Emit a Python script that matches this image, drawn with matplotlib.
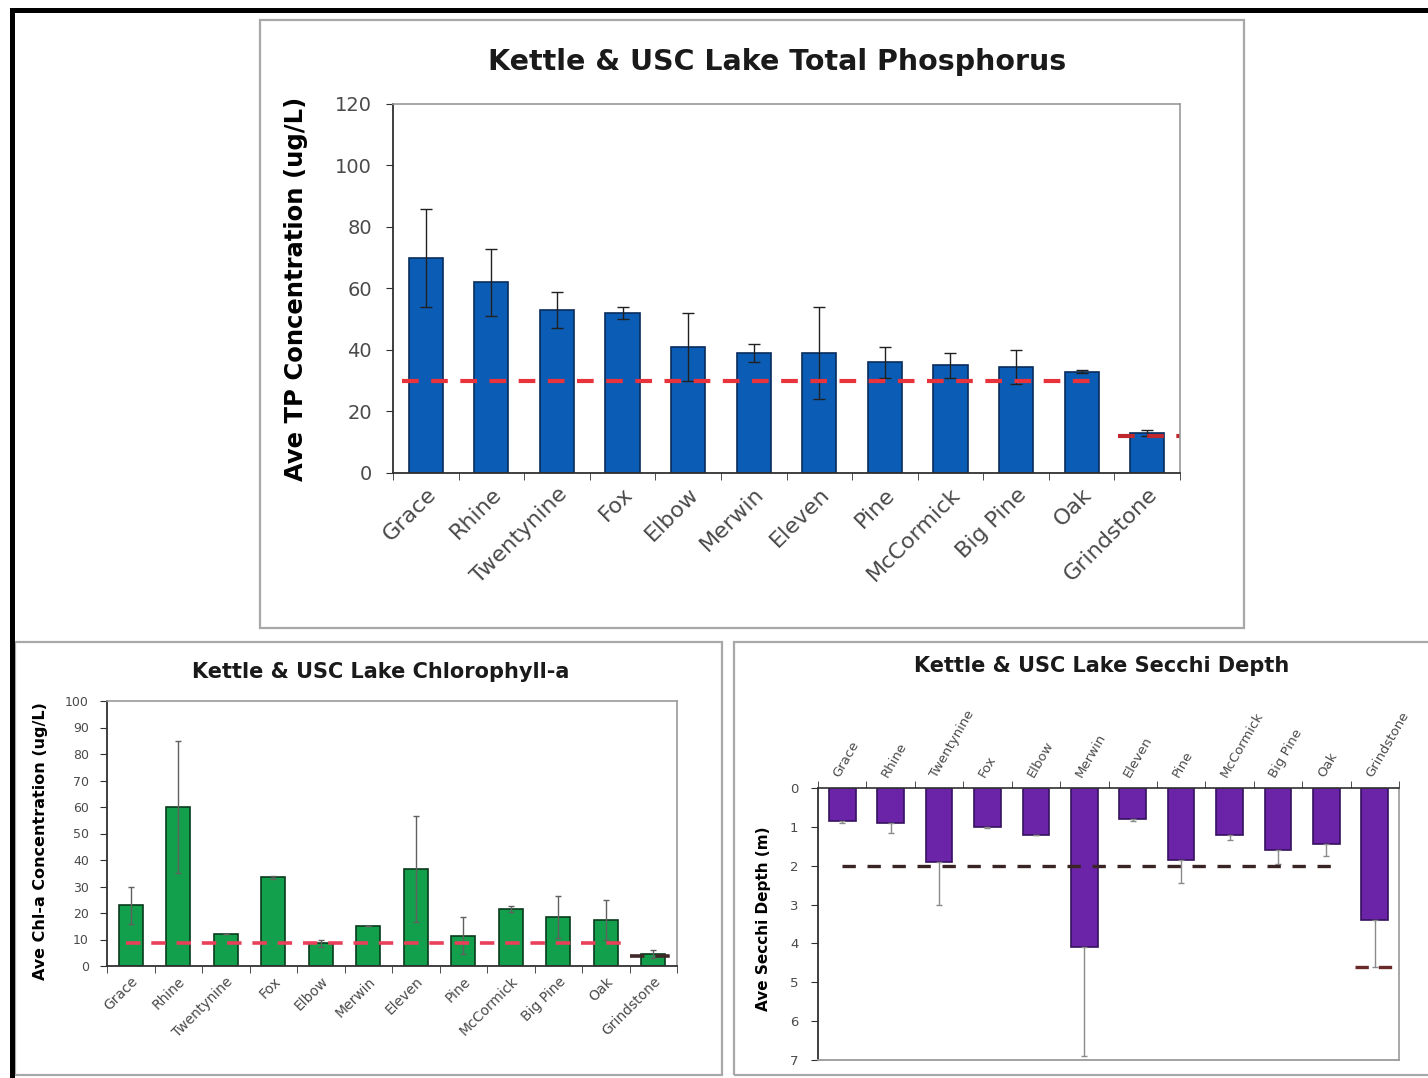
import matplotlib
matplotlib.use("Agg")
import matplotlib.pyplot as plt
import numpy as np
from matplotlib.patches import Rectangle
from matplotlib.lines import Line2D

W, H = 1428, 1078

lakes = ["Grace", "Rhine", "Twentynine", "Fox", "Elbow", "Merwin", "Eleven",
         "Pine", "McCormick", "Big Pine", "Oak", "Grindstone"]

tp_mean = [70, 62, 53, 52, 41, 39, 39, 36, 35, 34.5, 33, 13]
tp_err = [16, 11, 6, 2, 11, 3, 15, 5, 4, 5.5, 0.5, 1]
tp_ref = 30
tp_ref_grindstone = 12

chl_mean = [23, 60, 12, 33.5, 8.5, 15, 36.5, 11.5, 21.5, 18.5, 17.5, 4.5]
chl_err = [7, 25, 0, 0.5, 1.5, 0, 20, 7, 1, 8, 7.5, 1.5]
chl_ref = 8.6
chl_ref_grindstone = 3.6

secchi_mean = [0.85, 0.9, 1.9, 1.0, 1.2, 4.1, 0.8, 1.85, 1.2, 1.6, 1.45, 3.4]
secchi_err = [0.05, 0.25, 1.1, 0.02, 0.02, 2.8, 0.05, 0.6, 0.15, 0.35, 0.3, 1.2]
secchi_ref = 2.0
secchi_ref_grindstone = 4.6

TICK_GRAY = "#4a4a4a"


def fig_rect(x0, y0, x1, y1):
    """pixel box (top-left origin) -> figure fraction [left, bottom, w, h]"""
    return [x0 / W, 1 - y1 / H, (x1 - x0) / W, (y1 - y0) / H]


def style_axes(ax, ypad):
    for side in ("top", "right"):
        ax.spines[side].set_color("#9a9a9a")
        ax.spines[side].set_linewidth(1.2)
    for side in ("left", "bottom"):
        ax.spines[side].set_color("#303030")
        ax.spines[side].set_linewidth(1.3)
    ax.tick_params(axis="y", direction="out", length=5, colors="#303030",
                   labelcolor=TICK_GRAY, pad=ypad)
    ax.tick_params(axis="x", which="major", length=0, labelcolor=TICK_GRAY)
    ax.tick_params(axis="x", which="minor", direction="out", length=5,
                   colors="#303030")


fig = plt.figure(figsize=(W / 100, H / 100), dpi=100)
plt.rcParams["font.family"] = ["DejaVu Sans"]

# panel frames
for (x0, y0, x1, y1) in [(260, 20, 1244, 628), (15, 642, 722, 1075),
                         (734, 642, 1460, 1075)]:
    fig.patches.append(Rectangle((x0 / W, 1 - y1 / H), (x1 - x0) / W, (y1 - y0) / H,
                                 transform=fig.transFigure, fill=False,
                                 edgecolor="#a8a8a8", linewidth=1.6))
# outer black frame (top and left)
fig.lines.append(Line2D([12 / W, 1], [1 - 10 / H, 1 - 10 / H], transform=fig.transFigure,
                        color="black", linewidth=3.6))
fig.lines.append(Line2D([12 / W, 12 / W], [0, 1 - 10 / H], transform=fig.transFigure,
                        color="black", linewidth=3.6))

x = np.arange(len(lakes))

# ---- Total phosphorus ----
ax1 = fig.add_axes(fig_rect(393, 104, 1180, 473))
ax1.bar(x, tp_mean, width=0.52, color="#0b5cb4", edgecolor="#082c5c", linewidth=1.2,
        yerr=tp_err, capsize=4, error_kw=dict(ecolor="#202020", elinewidth=1, capthick=1))
ax1.hlines(tp_ref, -0.37, 10.25, colors="#e8323c", linestyles=(0, (4, 3)), linewidth=3)
ax1.hlines(tp_ref_grindstone, 10.56, 11.5, colors="#c0282e", linestyles=(0, (4, 3)),
           linewidth=3)
ax1.set_xlim(-0.5, len(lakes) - 0.5)
ax1.set_ylim(0, 120)
ax1.set_yticks(np.arange(0, 121, 20))
ax1.set_xticks(x)
ax1.set_xticks(np.arange(-0.5, len(lakes), 1), minor=True)
ax1.set_xticklabels(lakes, rotation=45, ha="right", rotation_mode="anchor", fontsize=16)
ax1.tick_params(axis="y", labelsize=14)
style_axes(ax1, 10)
ax1.tick_params(axis="x", which="major", pad=8)
ax1.set_ylabel("Ave TP Concentration (ug/L)", fontsize=17.5, fontweight="bold")
ax1.yaxis.set_label_coords(-0.108, 0.5)
fig.text(777 / W, 1 - 62 / H, "Kettle & USC Lake Total Phosphorus", ha="center",
         va="center", fontsize=20.5, fontweight="bold", color="#1a1a1a")

# ---- Chlorophyll-a ----
ax2 = fig.add_axes(fig_rect(107, 701, 677, 966))
ax2.bar(x, chl_mean, width=0.5, color="#13a04c", edgecolor="#0a3a1c", linewidth=1.2,
        yerr=chl_err, capsize=2.5, error_kw=dict(ecolor="#606060", elinewidth=1, capthick=1))
ax2.hlines(chl_ref, -0.1, 10.4, colors="#e8405a", linestyles=(0, (4, 3)), linewidth=2.6)
ax2.hlines(chl_ref_grindstone, 10.5, 11.45, colors="#402828", linestyles=(0, (4, 3)),
           linewidth=2.6)
ax2.set_xlim(-0.5, len(lakes) - 0.5)
ax2.set_ylim(0, 100)
ax2.set_yticks(np.arange(0, 101, 10))
ax2.set_xticks(x)
ax2.set_xticks(np.arange(-0.5, len(lakes), 1), minor=True)
ax2.set_xticklabels(lakes, rotation=45, ha="right", rotation_mode="anchor", fontsize=10)
ax2.tick_params(axis="y", labelsize=9)
style_axes(ax2, 8)
ax2.tick_params(axis="x", which="major", pad=6)
ax2.set_ylabel("Ave Chl-a Concentration (ug/L)", fontsize=11.5, fontweight="bold")
ax2.yaxis.set_label_coords(-0.1035, 0.47)
fig.text(381 / W, 1 - 672 / H, "Kettle & USC Lake Chlorophyll-a", ha="center",
         va="center", fontsize=15, fontweight="bold", color="#1a1a1a")

# ---- Secchi depth ----
ax3 = fig.add_axes(fig_rect(818, 788, 1399, 1060))
secchi_yerr = [np.zeros(len(secchi_err)), secchi_err]
ax3.bar(x, secchi_mean, width=0.55, color="#6b24a8", edgecolor="#36105e", linewidth=1.2,
        yerr=secchi_yerr, capsize=2.5,
        error_kw=dict(ecolor="#8a8a8a", elinewidth=1, capthick=1))
ax3.hlines(secchi_ref, 0, 10.3, colors="#3a2424", linestyles=(0, (4, 3.5)), linewidth=2.4)
ax3.hlines(secchi_ref_grindstone, 10.6, 11.4, colors="#6a2a2a", linestyles=(0, (4, 3)),
           linewidth=2.4)
ax3.set_xlim(-0.5, len(lakes) - 0.5)
ax3.set_ylim(7, 0)
ax3.set_yticks(np.arange(0, 8, 1))
ax3.xaxis.tick_top()
ax3.set_xticks(x)
ax3.set_xticks(np.arange(-0.5, len(lakes), 1), minor=True)
ax3.set_xticklabels(lakes, rotation=60, ha="left", rotation_mode="anchor", fontsize=9.5)
ax3.tick_params(axis="y", labelsize=9.5)
style_axes(ax3, 9)
ax3.spines["top"].set_color("#303030")
ax3.spines["bottom"].set_color("#9a9a9a")
ax3.tick_params(axis="x", which="minor", top=True, bottom=False)
ax3.tick_params(axis="x", which="major", pad=6)
ax3.set_ylabel("Ave Secchi Depth (m)", fontsize=11, fontweight="bold")
ax3.yaxis.set_label_coords(-0.081, 0.52)
fig.text(1102 / W, 1 - 666 / H, "Kettle & USC Lake Secchi Depth", ha="center",
         va="center", fontsize=15, fontweight="bold", color="#1a1a1a")

fig.savefig("out.png", dpi=100)
